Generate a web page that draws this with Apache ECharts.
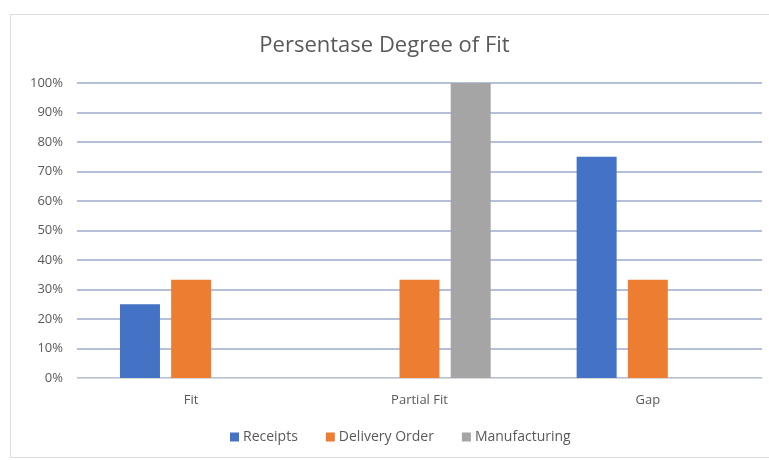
<!DOCTYPE html>
<html>
<head>
<meta charset="utf-8">
<script src="https://cdn.jsdelivr.net/npm/echarts@6/dist/echarts.min.js"></script>
<style>
  html, body { margin: 0; padding: 0; background: #fff; }
  #frame { position: absolute; left: 10px; top: 14px; width: 780px; height: 444px;
           border: 1px solid #dcdcdc; box-sizing: border-box; }
  #chart { position: absolute; left: 0; top: 0; width: 769px; height: 460px; }
</style>
</head>
<body>
<div id="frame"></div>
<div id="chart"></div>
<script>
// data
const categories = ["Fit", "Partial Fit", "Gap"];
const receipts = [25, 0, 75];
const deliveryOrder = [33.3, 33.3, 33.3];
const manufacturing = [0, 100, 0];
const seriesNames = ["Receipts", "Delivery Order", "Manufacturing"];
const seriesColors = ["#4472c4", "#ed7d31", "#a5a5a5"];

const font = "'Open Sans', 'Liberation Sans', sans-serif";
const chart = echarts.init(document.getElementById("chart"));

const seriesData = [receipts, deliveryOrder, manufacturing];
chart.setOption({
  animation: false,
  title: {
    text: "Persentase Degree of Fit",
    left: "center",
    top: 30,
    textStyle: { fontFamily: font, fontSize: 22, fontWeight: "normal", color: "#595959" }
  },
  legend: {
    bottom: 11,
    left: 225,
    icon: "rect",
    itemWidth: 9,
    itemHeight: 9,
    itemGap: 28,
    textStyle: { fontFamily: font, fontSize: 14, color: "#595959", padding: [0, 0, 0, -1] },
    data: seriesNames
  },
  grid: { left: 77, right: 7, top: 83, bottom: 82, containLabel: false },
  xAxis: {
    type: "category",
    data: categories,
    axisTick: { show: false },
    axisLine: { lineStyle: { color: "#d9d9d9" } },
    axisLabel: { fontFamily: font, fontSize: 13, color: "#595959", margin: 16 }
  },
  yAxis: {
    type: "value",
    min: 0,
    max: 100,
    interval: 10,
    axisLabel: { fontFamily: font, fontSize: 13, color: "#595959", margin: 14,
                 formatter: "{value}%" },
    axisLine: { show: false },
    axisTick: { show: false },
    splitLine: { lineStyle: { color: "#b4c0da", width: 2 } }
  },
  series: seriesNames.map((name, i) => ({
    name: name,
    type: "bar",
    data: seriesData[i],
    barWidth: 40,
    barGap: "28%",
    itemStyle: { color: seriesColors[i] }
  }))
});
</script>
</body>
</html>
